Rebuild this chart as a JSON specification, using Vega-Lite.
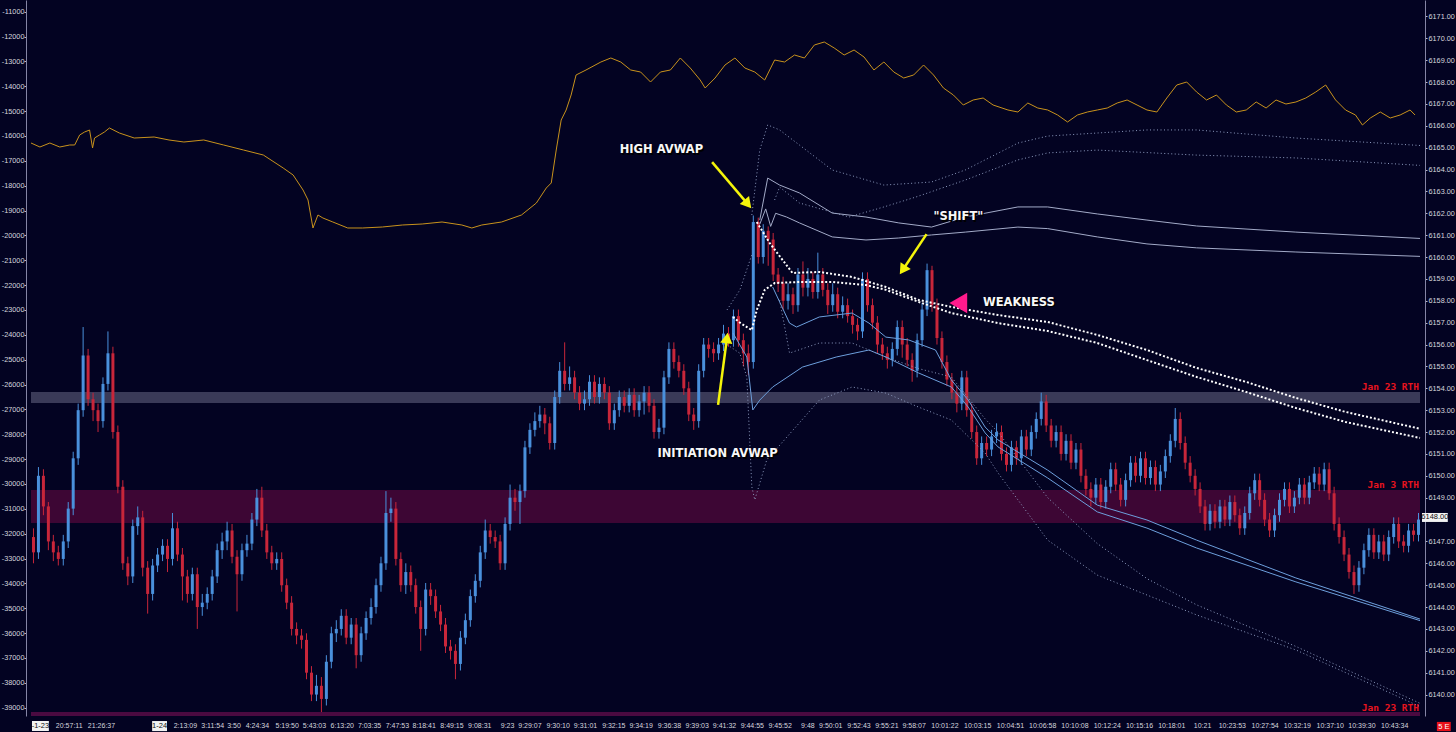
{
"$schema":"https://vega.github.io/schema/vega-lite/v6.json",
"width":1399,"height":716,
"autosize":{"type":"none"},
"padding":{"left":26,"top":0,"right":31,"bottom":16},
"background":"#030322",
"config":{"view":{"stroke":null},"axis":{"grid":false,"title":null,"labelFont":"Liberation Sans","labelFontSize":7.3,"labelColor":"#d6d6de","tickColor":"#b8b8c8","domainColor":"#8585a5"}},
"datasets":{
"candles":[
{"t":0,"o":6147.2,"h":6147.6,"l":6146.0,"c":6146.5},
{"t":1,"o":6146.5,"h":6150.4,"l":6146.2,"c":6150.0},
{"t":2,"o":6150.0,"h":6150.3,"l":6148.2,"c":6148.6},
{"t":3,"o":6148.6,"h":6148.8,"l":6146.6,"c":6147.0},
{"t":4,"o":6147.0,"h":6147.3,"l":6146.1,"c":6146.5},
{"t":5,"o":6146.5,"h":6146.8,"l":6145.9,"c":6146.2},
{"t":6,"o":6146.2,"h":6147.3,"l":6145.9,"c":6147.0},
{"t":7,"o":6147.0,"h":6148.8,"l":6146.7,"c":6148.5},
{"t":8,"o":6148.5,"h":6151.1,"l":6148.2,"c":6150.8},
{"t":9,"o":6150.8,"h":6153.3,"l":6150.5,"c":6153.0},
{"t":10,"o":6153.0,"h":6156.8,"l":6152.7,"c":6155.5},
{"t":11,"o":6155.5,"h":6155.8,"l":6153.2,"c":6153.5},
{"t":12,"o":6153.5,"h":6153.8,"l":6152.5,"c":6153.0},
{"t":13,"o":6153.0,"h":6153.3,"l":6152.0,"c":6152.5},
{"t":14,"o":6152.5,"h":6154.5,"l":6152.2,"c":6154.2},
{"t":15,"o":6154.2,"h":6156.6,"l":6153.9,"c":6155.6},
{"t":16,"o":6155.6,"h":6155.9,"l":6151.7,"c":6152.0},
{"t":17,"o":6152.0,"h":6152.3,"l":6149.2,"c":6149.5},
{"t":18,"o":6149.5,"h":6149.8,"l":6145.7,"c":6146.0},
{"t":19,"o":6146.0,"h":6146.3,"l":6145.0,"c":6145.4},
{"t":20,"o":6145.4,"h":6148.0,"l":6145.1,"c":6147.7},
{"t":21,"o":6147.7,"h":6148.6,"l":6147.3,"c":6148.1},
{"t":22,"o":6148.1,"h":6148.4,"l":6145.4,"c":6145.8},
{"t":23,"o":6145.8,"h":6146.1,"l":6143.7,"c":6144.6},
{"t":24,"o":6144.6,"h":6146.2,"l":6144.3,"c":6145.9},
{"t":25,"o":6145.9,"h":6146.7,"l":6145.6,"c":6146.4},
{"t":26,"o":6146.4,"h":6147.1,"l":6146.1,"c":6146.8},
{"t":27,"o":6146.8,"h":6147.1,"l":6145.6,"c":6146.2},
{"t":28,"o":6146.2,"h":6148.3,"l":6145.9,"c":6147.6},
{"t":29,"o":6147.6,"h":6147.9,"l":6146.1,"c":6146.4},
{"t":30,"o":6146.4,"h":6146.7,"l":6144.3,"c":6145.4},
{"t":31,"o":6145.4,"h":6145.7,"l":6144.2,"c":6144.6},
{"t":32,"o":6144.6,"h":6145.8,"l":6144.3,"c":6145.5},
{"t":33,"o":6145.5,"h":6145.8,"l":6143.0,"c":6144.0},
{"t":34,"o":6144.0,"h":6144.6,"l":6143.6,"c":6144.2},
{"t":35,"o":6144.2,"h":6144.9,"l":6143.9,"c":6144.6},
{"t":36,"o":6144.6,"h":6145.7,"l":6144.3,"c":6145.4},
{"t":37,"o":6145.4,"h":6146.9,"l":6145.1,"c":6146.6},
{"t":38,"o":6146.6,"h":6147.4,"l":6146.2,"c":6147.0},
{"t":39,"o":6147.0,"h":6147.9,"l":6146.6,"c":6147.5},
{"t":40,"o":6147.5,"h":6147.8,"l":6146.0,"c":6146.3},
{"t":41,"o":6146.3,"h":6146.6,"l":6143.8,"c":6145.5},
{"t":42,"o":6145.5,"h":6146.9,"l":6145.2,"c":6146.6},
{"t":43,"o":6146.6,"h":6147.3,"l":6146.3,"c":6146.9},
{"t":44,"o":6146.9,"h":6148.3,"l":6146.6,"c":6148.0},
{"t":45,"o":6148.0,"h":6149.4,"l":6147.7,"c":6149.0},
{"t":46,"o":6149.0,"h":6149.5,"l":6147.2,"c":6147.5},
{"t":47,"o":6147.5,"h":6147.8,"l":6146.2,"c":6146.5},
{"t":48,"o":6146.5,"h":6146.8,"l":6145.7,"c":6146.0},
{"t":49,"o":6146.0,"h":6146.5,"l":6145.7,"c":6146.2},
{"t":50,"o":6146.2,"h":6146.5,"l":6144.7,"c":6145.0},
{"t":51,"o":6145.0,"h":6145.3,"l":6143.9,"c":6144.2},
{"t":52,"o":6144.2,"h":6144.5,"l":6142.7,"c":6143.0},
{"t":53,"o":6143.0,"h":6143.3,"l":6142.3,"c":6142.7},
{"t":54,"o":6142.7,"h":6143.0,"l":6142.1,"c":6142.5},
{"t":55,"o":6142.5,"h":6142.8,"l":6140.7,"c":6141.0},
{"t":56,"o":6141.0,"h":6141.3,"l":6139.7,"c":6140.0},
{"t":57,"o":6140.0,"h":6140.9,"l":6139.7,"c":6140.4},
{"t":58,"o":6140.4,"h":6140.8,"l":6139.2,"c":6139.8},
{"t":59,"o":6139.8,"h":6141.8,"l":6139.5,"c":6141.5},
{"t":60,"o":6141.5,"h":6143.1,"l":6141.2,"c":6142.8},
{"t":61,"o":6142.8,"h":6143.4,"l":6142.4,"c":6143.0},
{"t":62,"o":6143.0,"h":6143.9,"l":6142.7,"c":6143.6},
{"t":63,"o":6143.6,"h":6143.9,"l":6142.3,"c":6142.6},
{"t":64,"o":6142.6,"h":6143.5,"l":6142.3,"c":6143.2},
{"t":65,"o":6143.2,"h":6143.5,"l":6141.2,"c":6141.8},
{"t":66,"o":6141.8,"h":6143.1,"l":6141.5,"c":6142.8},
{"t":67,"o":6142.8,"h":6143.8,"l":6142.5,"c":6143.5},
{"t":68,"o":6143.5,"h":6144.4,"l":6143.2,"c":6144.0},
{"t":69,"o":6144.0,"h":6145.3,"l":6143.7,"c":6145.0},
{"t":70,"o":6145.0,"h":6146.3,"l":6144.7,"c":6146.0},
{"t":71,"o":6146.0,"h":6149.3,"l":6145.7,"c":6148.3},
{"t":72,"o":6148.3,"h":6149.0,"l":6147.9,"c":6148.5},
{"t":73,"o":6148.5,"h":6148.8,"l":6145.9,"c":6146.2},
{"t":74,"o":6146.2,"h":6146.5,"l":6144.7,"c":6145.0},
{"t":75,"o":6145.0,"h":6146.0,"l":6144.6,"c":6145.6},
{"t":76,"o":6145.6,"h":6145.9,"l":6144.7,"c":6145.0},
{"t":77,"o":6145.0,"h":6145.3,"l":6143.7,"c":6144.0},
{"t":78,"o":6144.0,"h":6144.3,"l":6142.0,"c":6143.0},
{"t":79,"o":6143.0,"h":6145.1,"l":6142.7,"c":6144.8},
{"t":80,"o":6144.8,"h":6145.1,"l":6144.1,"c":6144.5},
{"t":81,"o":6144.5,"h":6144.8,"l":6143.5,"c":6143.8},
{"t":82,"o":6143.8,"h":6144.1,"l":6142.9,"c":6143.2},
{"t":83,"o":6143.2,"h":6143.5,"l":6141.9,"c":6142.2},
{"t":84,"o":6142.2,"h":6142.5,"l":6141.6,"c":6142.0},
{"t":85,"o":6142.0,"h":6142.3,"l":6140.7,"c":6141.4},
{"t":86,"o":6141.4,"h":6142.9,"l":6141.1,"c":6142.6},
{"t":87,"o":6142.6,"h":6143.7,"l":6142.3,"c":6143.4},
{"t":88,"o":6143.4,"h":6144.8,"l":6143.1,"c":6144.5},
{"t":89,"o":6144.5,"h":6145.5,"l":6144.2,"c":6145.2},
{"t":90,"o":6145.2,"h":6146.8,"l":6144.9,"c":6146.5},
{"t":91,"o":6146.5,"h":6148.0,"l":6146.2,"c":6147.5},
{"t":92,"o":6147.5,"h":6147.8,"l":6146.9,"c":6147.2},
{"t":93,"o":6147.2,"h":6147.5,"l":6146.7,"c":6147.0},
{"t":94,"o":6147.0,"h":6147.3,"l":6145.7,"c":6146.0},
{"t":95,"o":6146.0,"h":6148.1,"l":6145.7,"c":6147.8},
{"t":96,"o":6147.8,"h":6149.6,"l":6147.5,"c":6149.0},
{"t":97,"o":6149.0,"h":6149.4,"l":6148.4,"c":6148.8},
{"t":98,"o":6148.8,"h":6149.6,"l":6147.8,"c":6149.3},
{"t":99,"o":6149.3,"h":6151.6,"l":6149.0,"c":6151.3},
{"t":100,"o":6151.3,"h":6152.4,"l":6151.0,"c":6152.1},
{"t":101,"o":6152.1,"h":6152.9,"l":6151.8,"c":6152.5},
{"t":102,"o":6152.5,"h":6153.2,"l":6152.2,"c":6152.8},
{"t":103,"o":6152.8,"h":6153.1,"l":6151.9,"c":6152.4},
{"t":104,"o":6152.4,"h":6152.7,"l":6151.2,"c":6151.5},
{"t":105,"o":6151.5,"h":6153.9,"l":6151.2,"c":6153.6},
{"t":106,"o":6153.6,"h":6155.2,"l":6153.3,"c":6154.8},
{"t":107,"o":6154.8,"h":6156.1,"l":6153.9,"c":6154.2},
{"t":108,"o":6154.2,"h":6155.0,"l":6153.9,"c":6154.5},
{"t":109,"o":6154.5,"h":6154.8,"l":6153.5,"c":6153.8},
{"t":110,"o":6153.8,"h":6154.1,"l":6153.0,"c":6153.3},
{"t":111,"o":6153.3,"h":6153.9,"l":6153.0,"c":6153.5},
{"t":112,"o":6153.5,"h":6154.6,"l":6153.2,"c":6154.3},
{"t":113,"o":6154.3,"h":6154.6,"l":6153.3,"c":6153.6},
{"t":114,"o":6153.6,"h":6154.5,"l":6153.3,"c":6154.2},
{"t":115,"o":6154.2,"h":6154.5,"l":6153.5,"c":6153.8},
{"t":116,"o":6153.8,"h":6154.1,"l":6152.1,"c":6152.4},
{"t":117,"o":6152.4,"h":6153.3,"l":6152.1,"c":6153.0},
{"t":118,"o":6153.0,"h":6153.9,"l":6152.7,"c":6153.6},
{"t":119,"o":6153.6,"h":6153.9,"l":6152.9,"c":6153.2},
{"t":120,"o":6153.2,"h":6154.0,"l":6152.9,"c":6153.7},
{"t":121,"o":6153.7,"h":6154.0,"l":6152.7,"c":6153.0},
{"t":122,"o":6153.0,"h":6153.7,"l":6152.7,"c":6153.4},
{"t":123,"o":6153.4,"h":6154.1,"l":6152.8,"c":6153.8},
{"t":124,"o":6153.8,"h":6154.1,"l":6152.9,"c":6153.2},
{"t":125,"o":6153.2,"h":6153.5,"l":6151.7,"c":6152.0},
{"t":126,"o":6152.0,"h":6152.6,"l":6151.7,"c":6152.2},
{"t":127,"o":6152.2,"h":6154.8,"l":6151.9,"c":6154.5},
{"t":128,"o":6154.5,"h":6156.1,"l":6154.2,"c":6155.8},
{"t":129,"o":6155.8,"h":6156.1,"l":6154.9,"c":6155.2},
{"t":130,"o":6155.2,"h":6155.5,"l":6154.5,"c":6154.8},
{"t":131,"o":6154.8,"h":6155.1,"l":6153.7,"c":6154.0},
{"t":132,"o":6154.0,"h":6154.3,"l":6152.5,"c":6152.8},
{"t":133,"o":6152.8,"h":6153.1,"l":6152.1,"c":6152.5},
{"t":134,"o":6152.5,"h":6155.1,"l":6152.2,"c":6154.8},
{"t":135,"o":6154.8,"h":6156.3,"l":6154.5,"c":6156.0},
{"t":136,"o":6156.0,"h":6156.3,"l":6155.4,"c":6155.8},
{"t":137,"o":6155.8,"h":6156.1,"l":6155.2,"c":6155.6},
{"t":138,"o":6155.6,"h":6156.3,"l":6155.3,"c":6156.0},
{"t":139,"o":6156.0,"h":6156.9,"l":6155.7,"c":6156.5},
{"t":140,"o":6156.5,"h":6156.8,"l":6155.9,"c":6156.2},
{"t":141,"o":6156.2,"h":6157.6,"l":6155.9,"c":6157.3},
{"t":142,"o":6157.3,"h":6157.6,"l":6155.9,"c":6156.2},
{"t":143,"o":6156.2,"h":6156.5,"l":6155.0,"c":6155.6},
{"t":144,"o":6155.6,"h":6156.0,"l":6154.6,"c":6155.2},
{"t":145,"o":6155.2,"h":6161.9,"l":6154.9,"c":6161.6},
{"t":146,"o":6161.6,"h":6161.8,"l":6159.7,"c":6160.0},
{"t":147,"o":6160.0,"h":6161.5,"l":6159.7,"c":6161.2},
{"t":148,"o":6161.2,"h":6161.4,"l":6159.6,"c":6160.8},
{"t":149,"o":6160.8,"h":6161.1,"l":6158.9,"c":6159.2},
{"t":150,"o":6159.2,"h":6159.5,"l":6158.4,"c":6158.8},
{"t":151,"o":6158.8,"h":6159.1,"l":6157.6,"c":6158.0},
{"t":152,"o":6158.0,"h":6158.8,"l":6157.6,"c":6158.3},
{"t":153,"o":6158.3,"h":6158.6,"l":6157.4,"c":6157.8},
{"t":154,"o":6157.8,"h":6159.5,"l":6157.5,"c":6159.2},
{"t":155,"o":6159.2,"h":6159.8,"l":6158.2,"c":6158.6},
{"t":156,"o":6158.6,"h":6159.5,"l":6158.2,"c":6159.0},
{"t":157,"o":6159.0,"h":6159.3,"l":6158.1,"c":6158.4},
{"t":158,"o":6158.4,"h":6160.2,"l":6158.1,"c":6159.2},
{"t":159,"o":6159.2,"h":6159.5,"l":6158.2,"c":6158.5},
{"t":160,"o":6158.5,"h":6158.8,"l":6157.4,"c":6157.8},
{"t":161,"o":6157.8,"h":6158.8,"l":6157.5,"c":6158.3},
{"t":162,"o":6158.3,"h":6158.6,"l":6157.2,"c":6157.5},
{"t":163,"o":6157.5,"h":6158.2,"l":6157.2,"c":6157.8},
{"t":164,"o":6157.8,"h":6158.1,"l":6157.0,"c":6157.3},
{"t":165,"o":6157.3,"h":6157.6,"l":6156.5,"c":6156.9},
{"t":166,"o":6156.9,"h":6157.2,"l":6156.2,"c":6156.6},
{"t":167,"o":6156.6,"h":6159.3,"l":6156.3,"c":6159.0},
{"t":168,"o":6159.0,"h":6159.3,"l":6157.5,"c":6157.8},
{"t":169,"o":6157.8,"h":6158.1,"l":6156.7,"c":6157.0},
{"t":170,"o":6157.0,"h":6157.3,"l":6155.6,"c":6156.0},
{"t":171,"o":6156.0,"h":6156.3,"l":6155.3,"c":6155.6},
{"t":172,"o":6155.6,"h":6155.9,"l":6154.9,"c":6155.3},
{"t":173,"o":6155.3,"h":6156.1,"l":6155.0,"c":6155.8},
{"t":174,"o":6155.8,"h":6157.1,"l":6155.5,"c":6156.8},
{"t":175,"o":6156.8,"h":6157.1,"l":6155.4,"c":6156.0},
{"t":176,"o":6156.0,"h":6156.3,"l":6155.0,"c":6155.3},
{"t":177,"o":6155.3,"h":6155.6,"l":6154.3,"c":6154.8},
{"t":178,"o":6154.8,"h":6156.5,"l":6154.5,"c":6156.2},
{"t":179,"o":6156.2,"h":6157.9,"l":6155.9,"c":6157.6},
{"t":180,"o":6157.6,"h":6159.7,"l":6157.3,"c":6159.4},
{"t":181,"o":6159.4,"h":6159.6,"l":6157.5,"c":6157.8},
{"t":182,"o":6157.8,"h":6158.1,"l":6156.0,"c":6156.3},
{"t":183,"o":6156.3,"h":6156.6,"l":6154.9,"c":6155.2},
{"t":184,"o":6155.2,"h":6155.5,"l":6154.1,"c":6154.4},
{"t":185,"o":6154.4,"h":6154.7,"l":6153.5,"c":6153.8},
{"t":186,"o":6153.8,"h":6154.1,"l":6152.9,"c":6153.3},
{"t":187,"o":6153.3,"h":6154.8,"l":6153.0,"c":6154.5},
{"t":188,"o":6154.5,"h":6154.8,"l":6152.7,"c":6153.0},
{"t":189,"o":6153.0,"h":6153.3,"l":6151.7,"c":6152.0},
{"t":190,"o":6152.0,"h":6152.3,"l":6150.5,"c":6150.8},
{"t":191,"o":6150.8,"h":6151.8,"l":6150.5,"c":6151.5},
{"t":192,"o":6151.5,"h":6151.8,"l":6150.9,"c":6151.2},
{"t":193,"o":6151.2,"h":6152.1,"l":6150.9,"c":6151.8},
{"t":194,"o":6151.8,"h":6152.4,"l":6151.5,"c":6152.0},
{"t":195,"o":6152.0,"h":6152.3,"l":6150.7,"c":6151.0},
{"t":196,"o":6151.0,"h":6151.3,"l":6150.2,"c":6150.5},
{"t":197,"o":6150.5,"h":6151.6,"l":6150.2,"c":6151.3},
{"t":198,"o":6151.3,"h":6151.6,"l":6150.5,"c":6150.8},
{"t":199,"o":6150.8,"h":6152.1,"l":6150.5,"c":6151.8},
{"t":200,"o":6151.8,"h":6152.1,"l":6150.9,"c":6151.2},
{"t":201,"o":6151.2,"h":6152.3,"l":6150.9,"c":6152.0},
{"t":202,"o":6152.0,"h":6152.9,"l":6151.7,"c":6152.6},
{"t":203,"o":6152.6,"h":6153.8,"l":6152.3,"c":6153.4},
{"t":204,"o":6153.4,"h":6153.7,"l":6152.0,"c":6152.3},
{"t":205,"o":6152.3,"h":6152.6,"l":6151.3,"c":6151.6},
{"t":206,"o":6151.6,"h":6152.3,"l":6151.3,"c":6152.0},
{"t":207,"o":6152.0,"h":6152.3,"l":6150.7,"c":6151.0},
{"t":208,"o":6151.0,"h":6151.9,"l":6150.7,"c":6151.6},
{"t":209,"o":6151.6,"h":6151.9,"l":6150.3,"c":6150.6},
{"t":210,"o":6150.6,"h":6151.5,"l":6150.3,"c":6151.2},
{"t":211,"o":6151.2,"h":6151.5,"l":6149.7,"c":6150.0},
{"t":212,"o":6150.0,"h":6150.3,"l":6149.1,"c":6149.4},
{"t":213,"o":6149.4,"h":6149.7,"l":6148.6,"c":6149.0},
{"t":214,"o":6149.0,"h":6149.9,"l":6148.7,"c":6149.6},
{"t":215,"o":6149.6,"h":6149.9,"l":6148.5,"c":6148.8},
{"t":216,"o":6148.8,"h":6149.8,"l":6148.5,"c":6149.5},
{"t":217,"o":6149.5,"h":6150.6,"l":6149.2,"c":6150.3},
{"t":218,"o":6150.3,"h":6150.6,"l":6149.3,"c":6149.6},
{"t":219,"o":6149.6,"h":6149.9,"l":6148.6,"c":6148.9},
{"t":220,"o":6148.9,"h":6150.1,"l":6148.6,"c":6149.8},
{"t":221,"o":6149.8,"h":6150.9,"l":6149.5,"c":6150.6},
{"t":222,"o":6150.6,"h":6150.9,"l":6149.7,"c":6150.0},
{"t":223,"o":6150.0,"h":6151.1,"l":6149.7,"c":6150.8},
{"t":224,"o":6150.8,"h":6151.1,"l":6149.6,"c":6149.9},
{"t":225,"o":6149.9,"h":6150.7,"l":6149.6,"c":6150.4},
{"t":226,"o":6150.4,"h":6150.7,"l":6149.3,"c":6149.6},
{"t":227,"o":6149.6,"h":6150.5,"l":6149.3,"c":6150.2},
{"t":228,"o":6150.2,"h":6151.2,"l":6149.9,"c":6150.9},
{"t":229,"o":6150.9,"h":6151.9,"l":6150.6,"c":6151.6},
{"t":230,"o":6151.6,"h":6153.1,"l":6151.3,"c":6152.6},
{"t":231,"o":6152.6,"h":6152.9,"l":6151.2,"c":6151.5},
{"t":232,"o":6151.5,"h":6151.8,"l":6150.3,"c":6150.6},
{"t":233,"o":6150.6,"h":6150.9,"l":6149.7,"c":6150.0},
{"t":234,"o":6150.0,"h":6150.3,"l":6149.1,"c":6149.4},
{"t":235,"o":6149.4,"h":6149.7,"l":6148.3,"c":6148.6},
{"t":236,"o":6148.6,"h":6148.9,"l":6147.5,"c":6147.8},
{"t":237,"o":6147.8,"h":6148.7,"l":6147.5,"c":6148.4},
{"t":238,"o":6148.4,"h":6148.7,"l":6147.6,"c":6147.9},
{"t":239,"o":6147.9,"h":6148.9,"l":6147.6,"c":6148.6},
{"t":240,"o":6148.6,"h":6148.9,"l":6147.7,"c":6148.0},
{"t":241,"o":6148.0,"h":6149.1,"l":6147.7,"c":6148.8},
{"t":242,"o":6148.8,"h":6149.1,"l":6147.9,"c":6148.2},
{"t":243,"o":6148.2,"h":6148.5,"l":6147.3,"c":6147.6},
{"t":244,"o":6147.6,"h":6148.6,"l":6147.3,"c":6148.3},
{"t":245,"o":6148.3,"h":6149.5,"l":6148.0,"c":6149.2},
{"t":246,"o":6149.2,"h":6150.1,"l":6148.9,"c":6149.8},
{"t":247,"o":6149.8,"h":6150.1,"l":6148.6,"c":6148.9},
{"t":248,"o":6148.9,"h":6149.2,"l":6147.7,"c":6148.0},
{"t":249,"o":6148.0,"h":6148.3,"l":6147.2,"c":6147.5},
{"t":250,"o":6147.5,"h":6148.5,"l":6147.2,"c":6148.2},
{"t":251,"o":6148.2,"h":6149.2,"l":6147.9,"c":6148.9},
{"t":252,"o":6148.9,"h":6149.7,"l":6148.6,"c":6149.4},
{"t":253,"o":6149.4,"h":6149.7,"l":6148.3,"c":6148.6},
{"t":254,"o":6148.6,"h":6149.3,"l":6148.3,"c":6149.0},
{"t":255,"o":6149.0,"h":6149.9,"l":6148.7,"c":6149.6},
{"t":256,"o":6149.6,"h":6149.9,"l":6148.7,"c":6149.0},
{"t":257,"o":6149.0,"h":6150.0,"l":6148.7,"c":6149.7},
{"t":258,"o":6149.7,"h":6150.4,"l":6149.4,"c":6150.1},
{"t":259,"o":6150.1,"h":6150.4,"l":6149.3,"c":6149.6},
{"t":260,"o":6149.6,"h":6150.6,"l":6149.3,"c":6150.3},
{"t":261,"o":6150.3,"h":6150.6,"l":6148.9,"c":6149.2},
{"t":262,"o":6149.2,"h":6149.5,"l":6147.5,"c":6147.8},
{"t":263,"o":6147.8,"h":6148.1,"l":6146.9,"c":6147.2},
{"t":264,"o":6147.2,"h":6147.5,"l":6146.1,"c":6146.4},
{"t":265,"o":6146.4,"h":6146.7,"l":6145.3,"c":6145.6},
{"t":266,"o":6145.6,"h":6145.9,"l":6144.6,"c":6145.0},
{"t":267,"o":6145.0,"h":6146.1,"l":6144.7,"c":6145.8},
{"t":268,"o":6145.8,"h":6146.9,"l":6145.5,"c":6146.6},
{"t":269,"o":6146.6,"h":6147.6,"l":6146.3,"c":6147.3},
{"t":270,"o":6147.3,"h":6147.6,"l":6146.2,"c":6146.5},
{"t":271,"o":6146.5,"h":6147.3,"l":6146.2,"c":6147.0},
{"t":272,"o":6147.0,"h":6147.3,"l":6146.1,"c":6146.4},
{"t":273,"o":6146.4,"h":6147.5,"l":6146.1,"c":6147.2},
{"t":274,"o":6147.2,"h":6148.1,"l":6146.9,"c":6147.8},
{"t":275,"o":6147.8,"h":6148.1,"l":6146.7,"c":6147.0},
{"t":276,"o":6147.0,"h":6147.3,"l":6146.5,"c":6146.8},
{"t":277,"o":6146.8,"h":6147.8,"l":6146.5,"c":6147.5},
{"t":278,"o":6147.5,"h":6147.8,"l":6147.0,"c":6147.3},
{"t":279,"o":6147.3,"h":6148.3,"l":6147.0,"c":6148.0}
],
"delta":[
{"t":-0.5,"v":-16282},{"t":1.3,"v":-16443},{"t":3.3,"v":-16282},{"t":5.3,"v":-16443},{"t":7.3,"v":-16362},{"t":8.3,"v":-16362},{"t":9.3,"v":-15960},{"t":10.3,"v":-15839},{"t":11.3,"v":-15759},{"t":11.9,"v":-16483},{"t":12.3,"v":-16081},{"t":13.3,"v":-15960},{"t":14.3,"v":-15839},{"t":15.3,"v":-15678},{"t":17.3,"v":-15880},{"t":20.3,"v":-16081},{"t":24.3,"v":-16041},{"t":27.3,"v":-16161},{"t":30.3,"v":-16242},{"t":34.3,"v":-16161},{"t":38.3,"v":-16362},{"t":42.3,"v":-16564},{"t":46.3,"v":-16765},{"t":50.3,"v":-17288},{"t":52.3,"v":-17569},{"t":54.3,"v":-18173},{"t":55.3,"v":-18575},{"t":56.3,"v":-19701},{"t":57.3,"v":-19178},{"t":58.3,"v":-19299},{"t":60.3,"v":-19460},{"t":63.3,"v":-19701},{"t":66.3,"v":-19701},{"t":70.3,"v":-19661},{"t":74.3,"v":-19581},{"t":78.3,"v":-19541},{"t":82.3,"v":-19460},{"t":86.3,"v":-19581},{"t":88.3,"v":-19701},{"t":90.3,"v":-19581},{"t":94.3,"v":-19460},{"t":98.3,"v":-19178},{"t":101.3,"v":-18696},{"t":103.3,"v":-18092},{"t":104.3,"v":-17891},{"t":105.3,"v":-16564},{"t":106.3,"v":-15357},{"t":107.3,"v":-14954},{"t":108.3,"v":-14351},{"t":109.3,"v":-13546},{"t":111.3,"v":-13345},{"t":114.3,"v":-13023},{"t":116.3,"v":-12862},{"t":118.3,"v":-13023},{"t":120.3,"v":-13345},{"t":122.3,"v":-13426},{"t":124.3,"v":-13828},{"t":126.3,"v":-13426},{"t":128.3,"v":-13345},{"t":130.3,"v":-12862},{"t":132.3,"v":-13265},{"t":134.3,"v":-13747},{"t":135.3,"v":-14069},{"t":137.3,"v":-13667},{"t":139.3,"v":-13144},{"t":141.3,"v":-12862},{"t":143.3,"v":-13265},{"t":145.3,"v":-13426},{"t":147.3,"v":-13747},{"t":149.3,"v":-12943},{"t":151.3,"v":-13023},{"t":153.3,"v":-12742},{"t":155.3,"v":-12862},{"t":157.3,"v":-12339},{"t":159.3,"v":-12219},{"t":161.3,"v":-12460},{"t":163.3,"v":-12742},{"t":165.3,"v":-12541},{"t":167.3,"v":-12822},{"t":169.3,"v":-13345},{"t":171.3,"v":-13023},{"t":173.3,"v":-13426},{"t":175.3,"v":-13667},{"t":177.3,"v":-13546},{"t":179.3,"v":-13144},{"t":181.3,"v":-13546},{"t":183.3,"v":-14069},{"t":185.3,"v":-14351},{"t":187.3,"v":-14753},{"t":189.3,"v":-14552},{"t":191.3,"v":-14472},{"t":193.3,"v":-14753},{"t":196.3,"v":-14954},{"t":198.3,"v":-15035},{"t":200.3,"v":-14673},{"t":202.3,"v":-14874},{"t":204.3,"v":-14954},{"t":206.3,"v":-15155},{"t":208.3,"v":-15437},{"t":210.3,"v":-15155},{"t":212.3,"v":-15035},{"t":214.3,"v":-14954},{"t":216.3,"v":-14874},{"t":218.3,"v":-14673},{"t":220.3,"v":-14552},{"t":222.3,"v":-14753},{"t":224.3,"v":-14954},{"t":226.3,"v":-15035},{"t":228.3,"v":-14472},{"t":230.3,"v":-13949},{"t":232.3,"v":-13828},{"t":234.3,"v":-14230},{"t":236.3,"v":-14552},{"t":238.3,"v":-14351},{"t":240.3,"v":-14753},{"t":242.3,"v":-15035},{"t":244.3,"v":-14954},{"t":246.3,"v":-14632},{"t":248.3,"v":-14874},{"t":250.3,"v":-14552},{"t":252.3,"v":-14713},{"t":254.3,"v":-14632},{"t":256.3,"v":-14472},{"t":258.3,"v":-14230},{"t":260.3,"v":-13949},{"t":262.3,"v":-14552},{"t":264.3,"v":-14954},{"t":266.3,"v":-15155},{"t":267.7,"v":-15558},{"t":269.3,"v":-15276},{"t":271.3,"v":-15035},{"t":273.3,"v":-15276},{"t":275.3,"v":-15155},{"t":277.3,"v":-14954},{"t":278.3,"v":-15155}
],
"bands":[
{"s":"hv","t":145.7,"p":6161.6},{"s":"hv","t":148.3,"p":6160.64},{"s":"hv","t":152.9,"p":6159.27},{"s":"hv","t":158.3,"p":6159.32},{"s":"hv","t":164.9,"p":6159.09},{"s":"hv","t":171.7,"p":6158.63},{"s":"hv","t":178.3,"p":6158.04},{"s":"hv","t":184.9,"p":6157.72},{"s":"hv","t":194.3,"p":6157.35},{"s":"hv","t":204.3,"p":6157.03},{"s":"hv","t":214.3,"p":6156.44},{"s":"hv","t":224.3,"p":6155.75},{"s":"hv","t":234.3,"p":6154.93},{"s":"hv","t":244.3,"p":6154.29},{"s":"hv","t":254.3,"p":6153.56},{"s":"hv","t":264.3,"p":6152.92},{"s":"hv","t":279.3,"p":6152.15},
{"s":"lv","t":140.9,"p":6157.26},{"s":"lv","t":142.3,"p":6157.0},{"s":"lv","t":143.7,"p":6156.8},{"s":"lv","t":144.7,"p":6156.66},{"s":"lv","t":145.7,"p":6157.58},{"s":"lv","t":147.3,"p":6158.5},{"s":"lv","t":149.3,"p":6158.81},{"s":"lv","t":154.3,"p":6158.86},{"s":"lv","t":160.9,"p":6158.86},{"s":"lv","t":167.7,"p":6158.72},{"s":"lv","t":171.7,"p":6158.5},{"s":"lv","t":178.3,"p":6157.95},{"s":"lv","t":184.9,"p":6157.44},{"s":"lv","t":194.3,"p":6156.98},{"s":"lv","t":204.3,"p":6156.62},{"s":"lv","t":214.3,"p":6156.07},{"s":"lv","t":224.3,"p":6155.29},{"s":"lv","t":234.3,"p":6154.52},{"s":"lv","t":244.3,"p":6153.83},{"s":"lv","t":254.3,"p":6153.1},{"s":"lv","t":264.3,"p":6152.46},{"s":"lv","t":279.3,"p":6151.73},
{"s":"u1","t":146.3,"p":6161.69},{"s":"u1","t":147.9,"p":6163.61},{"s":"u1","t":150.3,"p":6163.29},{"s":"u1","t":154.3,"p":6162.93},{"s":"u1","t":160.9,"p":6162.01},{"s":"u1","t":167.7,"p":6161.83},{"s":"u1","t":174.3,"p":6161.56},{"s":"u1","t":180.9,"p":6161.37},{"s":"u1","t":187.7,"p":6161.83},{"s":"u1","t":198.3,"p":6162.29},{"s":"u1","t":204.3,"p":6162.29},{"s":"u1","t":214.3,"p":6161.97},{"s":"u1","t":224.3,"p":6161.69},{"s":"u1","t":234.3,"p":6161.42},{"s":"u1","t":254.3,"p":6161.14},{"s":"u1","t":279.3,"p":6160.85},
{"s":"u2","t":146.3,"p":6161.5},{"s":"u2","t":147.5,"p":6162.2},{"s":"u2","t":148.5,"p":6161.4},{"s":"u2","t":149.5,"p":6162.0},{"s":"u2","t":151.7,"p":6161.83},{"s":"u2","t":154.3,"p":6161.56},{"s":"u2","t":160.9,"p":6160.92},{"s":"u2","t":167.7,"p":6160.78},{"s":"u2","t":174.3,"p":6160.87},{"s":"u2","t":180.9,"p":6161.01},{"s":"u2","t":187.7,"p":6161.14},{"s":"u2","t":198.3,"p":6161.37},{"s":"u2","t":204.3,"p":6161.3},{"s":"u2","t":214.3,"p":6160.92},{"s":"u2","t":224.3,"p":6160.6},{"s":"u2","t":234.3,"p":6160.42},{"s":"u2","t":254.3,"p":6160.23},{"s":"u2","t":279.3,"p":6160.03},
{"s":"u3","t":144.7,"p":6161.92},{"s":"u3","t":146.3,"p":6164.89},{"s":"u3","t":147.9,"p":6166.04},{"s":"u3","t":150.3,"p":6165.81},{"s":"u3","t":154.3,"p":6165.12},{"s":"u3","t":160.9,"p":6163.98},{"s":"u3","t":171.3,"p":6163.29},{"s":"u3","t":180.9,"p":6163.43},{"s":"u3","t":187.7,"p":6163.98},{"s":"u3","t":198.3,"p":6165.21},{"s":"u3","t":204.3,"p":6165.53},{"s":"u3","t":214.3,"p":6165.67},{"s":"u3","t":224.3,"p":6165.81},{"s":"u3","t":234.3,"p":6165.81},{"s":"u3","t":254.3,"p":6165.44},{"s":"u3","t":279.3,"p":6165.1},
{"s":"u4","t":149.3,"p":6162.61},{"s":"u4","t":150.3,"p":6163.2},{"s":"u4","t":154.3,"p":6162.47},{"s":"u4","t":164.3,"p":6161.83},{"s":"u4","t":171.3,"p":6162.29},{"s":"u4","t":177.7,"p":6162.74},{"s":"u4","t":187.7,"p":6163.52},{"s":"u4","t":198.3,"p":6164.44},{"s":"u4","t":204.3,"p":6164.76},{"s":"u4","t":214.3,"p":6164.89},{"s":"u4","t":234.3,"p":6164.66},{"s":"u4","t":254.3,"p":6164.53},{"s":"u4","t":279.3,"p":6164.19},
{"s":"l1","t":148.9,"p":6158.63},{"s":"l1","t":152.3,"p":6156.98},{"s":"l1","t":153.7,"p":6156.8},{"s":"l1","t":158.3,"p":6157.26},{"s":"l1","t":164.9,"p":6157.44},{"s":"l1","t":168.3,"p":6156.98},{"s":"l1","t":171.7,"p":6156.34},{"s":"l1","t":176.3,"p":6156.21},{"s":"l1","t":181.7,"p":6155.75},{"s":"l1","t":184.9,"p":6154.38},{"s":"l1","t":188.3,"p":6153.46},{"s":"l1","t":191.7,"p":6152.23},{"s":"l1","t":194.3,"p":6151.64},{"s":"l1","t":204.3,"p":6150.26},{"s":"l1","t":214.3,"p":6148.66},{"s":"l1","t":224.3,"p":6147.98},{"s":"l1","t":234.3,"p":6147.06},{"s":"l1","t":254.3,"p":6145.33},{"s":"l1","t":279.3,"p":6143.45},
{"s":"l2","t":140.9,"p":6156.53},{"s":"l2","t":143.7,"p":6155.43},{"s":"l2","t":144.9,"p":6153.01},{"s":"l2","t":146.3,"p":6153.46},{"s":"l2","t":148.9,"p":6154.06},{"s":"l2","t":154.9,"p":6154.97},{"s":"l2","t":161.7,"p":6155.43},{"s":"l2","t":168.3,"p":6155.75},{"s":"l2","t":171.7,"p":6155.43},{"s":"l2","t":178.3,"p":6154.7},{"s":"l2","t":184.9,"p":6154.06},{"s":"l2","t":188.3,"p":6153.14},{"s":"l2","t":191.7,"p":6151.96},{"s":"l2","t":194.3,"p":6151.32},{"s":"l2","t":204.3,"p":6149.9},{"s":"l2","t":214.3,"p":6148.35},{"s":"l2","t":224.3,"p":6147.61},{"s":"l2","t":234.3,"p":6146.7},{"s":"l2","t":254.3,"p":6145.15},{"s":"l2","t":279.3,"p":6143.38},
{"s":"l3","t":139.7,"p":6156.0},{"s":"l3","t":142.3,"p":6155.6},{"s":"l3","t":143.7,"p":6154.5},{"s":"l3","t":144.7,"p":6149.5},{"s":"l3","t":145.3,"p":6148.9},{"s":"l3","t":147.7,"p":6150.72},{"s":"l3","t":158.3,"p":6153.46},{"s":"l3","t":164.9,"p":6154.06},{"s":"l3","t":171.7,"p":6153.78},{"s":"l3","t":178.3,"p":6153.14},{"s":"l3","t":184.9,"p":6152.55},{"s":"l3","t":191.7,"p":6151.04},{"s":"l3","t":194.3,"p":6150.13},{"s":"l3","t":204.3,"p":6147.06},{"s":"l3","t":214.3,"p":6145.46},{"s":"l3","t":224.3,"p":6144.55},{"s":"l3","t":234.3,"p":6143.64},{"s":"l3","t":254.3,"p":6142.04},{"s":"l3","t":279.3,"p":6139.45},
{"s":"l4","t":150.3,"p":6158.04},{"s":"l4","t":152.3,"p":6155.61},{"s":"l4","t":158.3,"p":6156.07},{"s":"l4","t":164.9,"p":6156.07},{"s":"l4","t":171.7,"p":6155.43},{"s":"l4","t":178.3,"p":6154.9},{"s":"l4","t":184.9,"p":6154.52},{"s":"l4","t":191.7,"p":6152.6},{"s":"l4","t":194.3,"p":6152.0},{"s":"l4","t":204.3,"p":6149.0},{"s":"l4","t":214.3,"p":6146.9},{"s":"l4","t":224.3,"p":6145.3},{"s":"l4","t":234.3,"p":6144.1},{"s":"l4","t":254.3,"p":6142.2},{"s":"l4","t":279.3,"p":6139.6},
{"s":"i1","t":139.7,"p":6157.58},{"s":"i1","t":142.3,"p":6158.5},{"s":"i1","t":144.7,"p":6160.1}
],
"zones":[{"name":"grey","p1":6153.33,"p2":6153.83},{"name":"magenta","p1":6147.84,"p2":6149.35},{"name":"low","p1":6139.02,"p2":6139.2}],
"rth":[{"label":"Jan 23 RTH","t":279.1,"p":6154.04},{"label":"Jan 3 RTH","t":279.1,"p":6149.6},{"label":"Jan 23 RTH","t":279.1,"p":6139.39}],
"notes":[{"label":"HIGH AVWAP","t":126.5,"p":6164.89},{"label":"\"SHIFT\"","t":186.3,"p":6161.83},{"label":"WEAKNESS","t":198.5,"p":6157.9},{"label":"INITIATION AVWAP","t":137.8,"p":6150.99}],
"arrows":[{"name":"high","t1":136.7,"p1":6164.34,"t2":143.9,"p2":6162.42},{"name":"shift","t1":179.9,"p1":6161.05,"t2":175.1,"p2":6159.41},{"name":"init","t1":137.9,"p1":6153.24,"t2":139.7,"p2":6156.3}],
"marker":[{"t":186.3,"p":6157.9}],
"times":[{"t":7.2,"label":"20:57:11"},{"t":13.7,"label":"21:26:37"},{"t":30.6,"label":"2:13:09"},{"t":36.1,"label":"3:11:54"},{"t":40.4,"label":"3:50"},{"t":45.1,"label":"4:24:34"},{"t":51.1,"label":"5:19:50"},{"t":56.6,"label":"5:43:03"},{"t":62.2,"label":"6:13:20"},{"t":67.7,"label":"7:03:35"},{"t":73.3,"label":"7:47:53"},{"t":78.7,"label":"8:18:41"},{"t":84.3,"label":"8:49:15"},{"t":89.9,"label":"9:08:31"},{"t":95.5,"label":"9:23"},{"t":100,"label":"9:29:07"},{"t":105.7,"label":"9:30:10"},{"t":111.2,"label":"9:31:01"},{"t":116.9,"label":"9:32:15"},{"t":122.4,"label":"9:34:19"},{"t":128.1,"label":"9:36:38"},{"t":133.7,"label":"9:39:03"},{"t":139.2,"label":"9:41:32"},{"t":144.8,"label":"9:44:55"},{"t":150.4,"label":"9:45:52"},{"t":156,"label":"9:48"},{"t":160.6,"label":"9:50:01"},{"t":166.3,"label":"9:52:43"},{"t":171.9,"label":"9:55:21"},{"t":177.4,"label":"9:58:07"},{"t":183.6,"label":"10:01:22"},{"t":190.2,"label":"10:03:15"},{"t":196.8,"label":"10:04:51"},{"t":203.3,"label":"10:06:58"},{"t":209.8,"label":"10:10:08"},{"t":216.3,"label":"10:12:24"},{"t":222.8,"label":"10:15:16"},{"t":229.3,"label":"10:18:01"},{"t":235.5,"label":"10:21"},{"t":241.5,"label":"10:23:53"},{"t":248.1,"label":"10:27:54"},{"t":254.6,"label":"10:32:19"},{"t":261.2,"label":"10:37:10"},{"t":267.6,"label":"10:39:30"},{"t":274.2,"label":"10:43:34"}],
"boxes":[{"k":"date","t1":-0.3,"t2":3.1,"p1":6138.79,"p2":6138.33,"tc":1.4,"pc":6138.56,"label":"-1-23"},{"k":"date","t1":23.9,"t2":26.9,"p1":6138.79,"p2":6138.33,"tc":25.4,"pc":6138.56,"label":"1-24"},{"k":"price","t1":279.7,"t2":284.9,"p1":6148.3,"p2":6147.89,"tc":282.3,"pc":6148.1,"label":"6148.00"},{"k":"flag","t1":282.7,"t2":285.5,"p1":6138.75,"p2":6138.33,"tc":284.1,"pc":6138.54,"label":"5 E"}]
},
"resolve":{"scale":{"y":"independent"}},
"layer":[
{"data":{"name":"delta"},"mark":{"type":"line","color":"#c8921c","strokeWidth":1},
 "encoding":{"x":{"field":"t","type":"quantitative","scale":{"domain":[-0.5,279.3],"nice":false,"zero":false},"axis":null},
 "y":{"field":"v","type":"quantitative","scale":{"domain":[-39334,-10529],"nice":false,"zero":false},
 "axis":{"orient":"left","values":[-11000,-12000,-13000,-14000,-15000,-16000,-17000,-18000,-19000,-20000,-21000,-22000,-23000,-24000,-25000,-26000,-27000,-28000,-29000,-30000,-31000,-32000,-33000,-34000,-35000,-36000,-37000,-38000,-39000],"labelExpr":"datum.value + ''","tickSize":2,"labelPadding":0}}}},
{"data":{"name":"zones"},"mark":{"type":"rect"},
 "encoding":{"x":{"datum":-0.5,"type":"quantitative","axis":null},"x2":{"datum":279.3},
 "y":{"field":"p1","type":"quantitative","scale":{"domain":[6139.02,6171.75],"nice":false,"zero":false},
  "axis":{"orient":"right","values":[6139,6140,6141,6142,6143,6144,6145,6146,6147,6149,6150,6151,6152,6153,6154,6155,6156,6157,6158,6159,6160,6161,6162,6163,6164,6165,6166,6167,6168,6169,6170,6171],"format":".2f","tickSize":2,"labelPadding":1}},
 "y2":{"field":"p2"},
 "color":{"condition":[{"test":"datum.name == 'grey'","value":"#3a3a58"},{"test":"datum.name == 'magenta'","value":"#3d0634"}],"value":"#4a0a40"}}},
{"data":{"name":"candles"},"mark":{"type":"rule","strokeWidth":1},
 "encoding":{"x":{"field":"t","type":"quantitative","axis":null},
 "y":{"field":"l","type":"quantitative","scale":{"domain":[6139.02,6171.75],"nice":false,"zero":false},"axis":null},
 "y2":{"field":"h"},
 "color":{"condition":{"test":"datum.c >= datum.o","value":"#4a90dc"},"value":"#c8263a"}}},
{"data":{"name":"candles"},"mark":{"type":"bar","size":3},
 "encoding":{"x":{"field":"t","type":"quantitative","axis":null},
 "y":{"field":"o","type":"quantitative","scale":{"domain":[6139.02,6171.75],"nice":false,"zero":false},"axis":null},
 "y2":{"field":"c"},
 "color":{"condition":{"test":"datum.c >= datum.o","value":"#4a90dc"},"value":"#c8263a"}}},
{"data":{"name":"bands"},"transform":[{"filter":"datum.s == 'u1' || datum.s == 'u2'"}],"mark":{"type":"line","color":"#a3abc8","strokeWidth":1},
 "encoding":{"x":{"field":"t","type":"quantitative","axis":null},"y":{"field":"p","type":"quantitative","scale":{"domain":[6139.02,6171.75],"nice":false,"zero":false},"axis":null},"detail":{"field":"s"}}},
{"data":{"name":"bands"},"transform":[{"filter":"datum.s == 'l1' || datum.s == 'l2'"}],"mark":{"type":"line","color":"#6d9fdc","strokeWidth":1},
 "encoding":{"x":{"field":"t","type":"quantitative","axis":null},"y":{"field":"p","type":"quantitative","scale":{"domain":[6139.02,6171.75],"nice":false,"zero":false},"axis":null},"detail":{"field":"s"}}},
{"data":{"name":"bands"},"transform":[{"filter":"indexof(['u3','u4','l3','l4','i1'], datum.s) >= 0"}],"mark":{"type":"line","color":"#8e9cc0","strokeWidth":1,"strokeDash":[1,2.5]},
 "encoding":{"x":{"field":"t","type":"quantitative","axis":null},"y":{"field":"p","type":"quantitative","scale":{"domain":[6139.02,6171.75],"nice":false,"zero":false},"axis":null},"detail":{"field":"s"}}},
{"data":{"name":"bands"},"transform":[{"filter":"datum.s == 'hv' || datum.s == 'lv'"}],"mark":{"type":"line","color":"#ffffff","strokeWidth":2,"strokeDash":[2,2]},
 "encoding":{"x":{"field":"t","type":"quantitative","axis":null},"y":{"field":"p","type":"quantitative","scale":{"domain":[6139.02,6171.75],"nice":false,"zero":false},"axis":null},"detail":{"field":"s"}}},
{"data":{"name":"rth"},"mark":{"type":"text","align":"right","baseline":"middle","font":"DejaVu Sans Mono","fontWeight":"bold","fontSize":9.5,"color":"#e8141e"},
 "encoding":{"x":{"field":"t","type":"quantitative","axis":null},"y":{"field":"p","type":"quantitative","scale":{"domain":[6139.02,6171.75],"nice":false,"zero":false},"axis":null},"text":{"field":"label"}}},
{"data":{"name":"arrows"},"mark":{"type":"rule","color":"#f4f40a","strokeWidth":2.5},
 "encoding":{"x":{"field":"t1","type":"quantitative","axis":null},"x2":{"field":"t2"},"y":{"field":"p1","type":"quantitative","scale":{"domain":[6139.02,6171.75],"nice":false,"zero":false},"axis":null},"y2":{"field":"p2"}}},
{"data":{"name":"arrows"},"transform":[{"filter":"datum.name == 'high'"}],"mark":{"type":"point","shape":"triangle-up","filled":true,"color":"#f4f40a","opacity":1,"size":150,"angle":139.4},
 "encoding":{"x":{"field":"t2","type":"quantitative","axis":null},"y":{"field":"p2","type":"quantitative","scale":{"domain":[6139.02,6171.75],"nice":false,"zero":false},"axis":null}}},
{"data":{"name":"arrows"},"transform":[{"filter":"datum.name == 'shift'"}],"mark":{"type":"point","shape":"triangle-up","filled":true,"color":"#f4f40a","opacity":1,"size":150,"angle":213.7},
 "encoding":{"x":{"field":"t2","type":"quantitative","axis":null},"y":{"field":"p2","type":"quantitative","scale":{"domain":[6139.02,6171.75],"nice":false,"zero":false},"axis":null}}},
{"data":{"name":"arrows"},"transform":[{"filter":"datum.name == 'init'"}],"mark":{"type":"point","shape":"triangle-up","filled":true,"color":"#f4f40a","opacity":1,"size":150,"angle":7.7},
 "encoding":{"x":{"field":"t2","type":"quantitative","axis":null},"y":{"field":"p2","type":"quantitative","scale":{"domain":[6139.02,6171.75],"nice":false,"zero":false},"axis":null}}},
{"data":{"name":"marker"},"mark":{"type":"point","shape":"triangle-left","filled":true,"color":"#ff1a8c","opacity":1,"size":420},
 "encoding":{"x":{"field":"t","type":"quantitative","axis":null},"y":{"field":"p","type":"quantitative","scale":{"domain":[6139.02,6171.75],"nice":false,"zero":false},"axis":null}}},
{"data":{"name":"notes"},"mark":{"type":"text","align":"center","baseline":"middle","font":"DejaVu Sans","fontWeight":"bold","fontSize":11.5,"color":"#000000","dx":1.5,"dy":1.5},
 "encoding":{"x":{"field":"t","type":"quantitative","axis":null},"y":{"field":"p","type":"quantitative","scale":{"domain":[6139.02,6171.75],"nice":false,"zero":false},"axis":null},"text":{"field":"label"}}},
{"data":{"name":"notes"},"mark":{"type":"text","align":"center","baseline":"middle","font":"DejaVu Sans","fontWeight":"bold","fontSize":11.5,"color":"#f8f8f8"},
 "encoding":{"x":{"field":"t","type":"quantitative","axis":null},"y":{"field":"p","type":"quantitative","scale":{"domain":[6139.02,6171.75],"nice":false,"zero":false},"axis":null},"text":{"field":"label"}}},
{"data":{"name":"times"},"mark":{"type":"text","align":"center","baseline":"middle","font":"Liberation Sans","fontSize":7,"color":"#d6d6de"},
 "encoding":{"x":{"field":"t","type":"quantitative","axis":null},"y":{"datum":6138.56,"type":"quantitative","scale":{"domain":[6139.02,6171.75],"nice":false,"zero":false},"axis":null},"text":{"field":"label"}}},
{"data":{"name":"boxes"},"mark":{"type":"rect"},
 "encoding":{"x":{"field":"t1","type":"quantitative","axis":null},"x2":{"field":"t2"},"y":{"field":"p1","type":"quantitative","scale":{"domain":[6139.02,6171.75],"nice":false,"zero":false},"axis":null},"y2":{"field":"p2"},
 "color":{"condition":{"test":"datum.k == 'flag'","value":"#e8101a"},"value":"#f2f2f2"}}},
{"data":{"name":"boxes"},"mark":{"type":"text","align":"center","baseline":"middle","font":"Liberation Sans","fontSize":7.5},
 "encoding":{"x":{"field":"tc","type":"quantitative","axis":null},"y":{"field":"pc","type":"quantitative","scale":{"domain":[6139.02,6171.75],"nice":false,"zero":false},"axis":null},"text":{"field":"label"},
 "color":{"condition":{"test":"datum.k == 'flag'","value":"#ffffff"},"value":"#101010"}}}
]
}
